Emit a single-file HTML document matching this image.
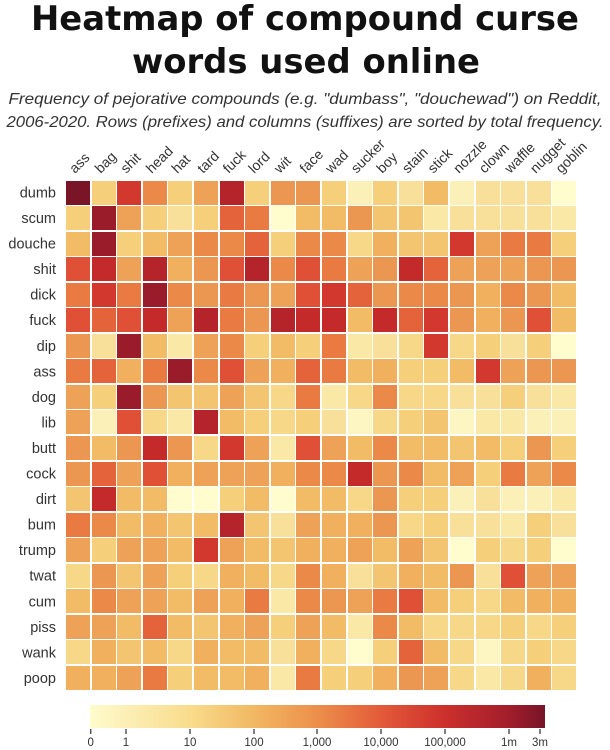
<!DOCTYPE html>
<html><head><meta charset="utf-8"><style>
html,body{margin:0;padding:0;background:#fff;}
#w{position:relative;width:610px;height:750px;overflow:hidden;background:#fff;}
svg{position:absolute;left:0;top:0;}
#g{position:absolute;left:66px;top:180.5px;display:grid;grid-template-columns:repeat(20,24.1px);grid-auto-rows:24.05px;column-gap:1.5px;row-gap:1.5px;}
#g i{display:block;}
.c0{background:#fffcce}.c1{background:#fdf6c2}.c2{background:#fbf0b8}.c3{background:#fae8a6}.c4{background:#f8e09a}
.c5{background:#f7d888}.c6{background:#f5cf7a}.c7{background:#f4c570}.c8{background:#f2bb66}.c9{background:#f0b05e}
.c10{background:#eea257}.c11{background:#ec9751}.c12{background:#eb8a48}.c13{background:#e87a42}.c14{background:#e5633b}
.c15{background:#e05036}.c16{background:#d2382e}.c17{background:#c42a2a}.c18{background:#b5242b}.c19{background:#9a1c2b}.c20{background:#7a1528}
</style></head><body><div id="w">
<svg width="610" height="750" viewBox="0 0 610 750" xmlns="http://www.w3.org/2000/svg">
<defs><linearGradient id="cb" x1="0" x2="1" y1="0" y2="0">
<stop offset="0" stop-color="#fffccd"/><stop offset="0.079" stop-color="#fcefb6"/><stop offset="0.22" stop-color="#f8dc8c"/>
<stop offset="0.36" stop-color="#f2b862"/><stop offset="0.5" stop-color="#ec8f4b"/><stop offset="0.64" stop-color="#e35a39"/>
<stop offset="0.78" stop-color="#cd302c"/><stop offset="0.92" stop-color="#a21e2b"/><stop offset="1" stop-color="#771428"/>
</linearGradient></defs>
<g font-family="DejaVu Sans, Liberation Sans, sans-serif" font-weight="bold" font-size="34" fill="#111" text-anchor="middle">
<text x="305" y="30" textLength="548" lengthAdjust="spacingAndGlyphs">Heatmap of compound curse</text>
<text x="306" y="73" textLength="348" lengthAdjust="spacingAndGlyphs">words used online</text>
</g>
<g font-family="Liberation Sans, sans-serif" font-style="italic" font-size="16" fill="#333" text-anchor="middle">
<text x="305" y="104" textLength="593" lengthAdjust="spacingAndGlyphs">Frequency of pejorative compounds (e.g. "dumbass", "douchewad") on Reddit,</text>
<text x="305" y="127" textLength="597" lengthAdjust="spacingAndGlyphs">2006-2020. Rows (prefixes) and columns (suffixes) are sorted by total frequency.</text>
</g>
<g font-family="Liberation Sans, sans-serif" font-size="14.5" fill="#333" text-anchor="end">
<text x="56" y="197.5">dumb</text><text x="56" y="223">scum</text><text x="56" y="248.6">douche</text><text x="56" y="274.1">shit</text>
<text x="56" y="299.7">dick</text><text x="56" y="325.2">fuck</text><text x="56" y="350.8">dip</text><text x="56" y="376.3">ass</text>
<text x="56" y="401.9">dog</text><text x="56" y="427.4">lib</text><text x="56" y="453">butt</text><text x="56" y="478.5">cock</text>
<text x="56" y="504.1">dirt</text><text x="56" y="529.6">bum</text><text x="56" y="555.2">trump</text><text x="56" y="580.7">twat</text>
<text x="56" y="606.3">cum</text><text x="56" y="631.8">piss</text><text x="56" y="657.4">wank</text><text x="56" y="683">poop</text>
</g>
<g font-family="Liberation Sans, sans-serif" font-size="14" fill="#333">
<text transform="translate(75,174) rotate(-45)">ass</text>
<text transform="translate(100.6,174) rotate(-45)">bag</text>
<text transform="translate(126.2,174) rotate(-45)">shit</text>
<text transform="translate(151.8,174) rotate(-45)">head</text>
<text transform="translate(177.4,174) rotate(-45)">hat</text>
<text transform="translate(203,174) rotate(-45)">tard</text>
<text transform="translate(228.6,174) rotate(-45)">fuck</text>
<text transform="translate(254.2,174) rotate(-45)">lord</text>
<text transform="translate(279.8,174) rotate(-45)">wit</text>
<text transform="translate(305.4,174) rotate(-45)">face</text>
<text transform="translate(331,174) rotate(-45)">wad</text>
<text transform="translate(356.6,174) rotate(-45)">sucker</text>
<text transform="translate(382.2,174) rotate(-45)">boy</text>
<text transform="translate(407.8,174) rotate(-45)">stain</text>
<text transform="translate(433.4,174) rotate(-45)">stick</text>
<text transform="translate(459,174) rotate(-45)">nozzle</text>
<text transform="translate(484.6,174) rotate(-45)">clown</text>
<text transform="translate(510.2,174) rotate(-45)">waffle</text>
<text transform="translate(535.8,174) rotate(-45)">nugget</text>
<text transform="translate(561.4,174) rotate(-45)">goblin</text>
</g>
<rect x="90" y="705" width="455" height="23" fill="url(#cb)"/>
<g stroke="#555" stroke-width="1.5">
<line x1="90.7" y1="729" x2="90.7" y2="734"/><line x1="126" y1="729" x2="126" y2="734"/><line x1="190" y1="729" x2="190" y2="734"/>
<line x1="254" y1="729" x2="254" y2="734"/><line x1="317" y1="729" x2="317" y2="734"/><line x1="381" y1="729" x2="381" y2="734"/>
<line x1="445" y1="729" x2="445" y2="734"/><line x1="509" y1="729" x2="509" y2="734"/><line x1="540" y1="729" x2="540" y2="734"/>
</g>
<g font-family="Liberation Sans, sans-serif" font-size="11.5" fill="#333" text-anchor="middle">
<text x="90.7" y="746">0</text><text x="126" y="746">1</text><text x="190" y="746">10</text><text x="254" y="746">100</text>
<text x="317" y="746">1,000</text><text x="381" y="746">10,000</text><text x="445" y="746">100,000</text><text x="509" y="746">1m</text><text x="540" y="746">3m</text>
</g>
</svg>
<div id="g">
<i class=c20></i><i class=c6></i><i class=c16></i><i class=c12></i><i class=c6></i><i class=c10></i><i class=c18></i><i class=c6></i><i class=c11></i><i class=c11></i><i class=c6></i><i class=c2></i><i class=c6></i><i class=c4></i><i class=c8></i><i class=c2></i><i class=c4></i><i class=c4></i><i class=c4></i><i class=c0></i>
<i class=c6></i><i class=c19></i><i class=c10></i><i class=c6></i><i class=c4></i><i class=c6></i><i class=c14></i><i class=c13></i><i class=c0></i><i class=c8></i><i class=c8></i><i class=c11></i><i class=c7></i><i class=c7></i><i class=c3></i><i class=c4></i><i class=c4></i><i class=c4></i><i class=c4></i><i class=c3></i>
<i class=c8></i><i class=c19></i><i class=c6></i><i class=c8></i><i class=c10></i><i class=c12></i><i class=c12></i><i class=c14></i><i class=c6></i><i class=c12></i><i class=c12></i><i class=c5></i><i class=c9></i><i class=c7></i><i class=c7></i><i class=c16></i><i class=c10></i><i class=c13></i><i class=c13></i><i class=c6></i>
<i class=c15></i><i class=c17></i><i class=c10></i><i class=c18></i><i class=c9></i><i class=c11></i><i class=c15></i><i class=c18></i><i class=c12></i><i class=c15></i><i class=c13></i><i class=c10></i><i class=c11></i><i class=c17></i><i class=c14></i><i class=c10></i><i class=c10></i><i class=c10></i><i class=c11></i><i class=c11></i>
<i class=c13></i><i class=c16></i><i class=c13></i><i class=c19></i><i class=c12></i><i class=c11></i><i class=c13></i><i class=c11></i><i class=c10></i><i class=c15></i><i class=c16></i><i class=c14></i><i class=c11></i><i class=c12></i><i class=c12></i><i class=c11></i><i class=c9></i><i class=c12></i><i class=c11></i><i class=c8></i>
<i class=c15></i><i class=c14></i><i class=c15></i><i class=c17></i><i class=c10></i><i class=c18></i><i class=c13></i><i class=c11></i><i class=c18></i><i class=c17></i><i class=c17></i><i class=c8></i><i class=c17></i><i class=c14></i><i class=c16></i><i class=c11></i><i class=c9></i><i class=c11></i><i class=c15></i><i class=c8></i>
<i class=c11></i><i class=c4></i><i class=c19></i><i class=c8></i><i class=c3></i><i class=c10></i><i class=c12></i><i class=c6></i><i class=c8></i><i class=c6></i><i class=c13></i><i class=c3></i><i class=c4></i><i class=c5></i><i class=c16></i><i class=c5></i><i class=c6></i><i class=c4></i><i class=c6></i><i class=c0></i>
<i class=c13></i><i class=c14></i><i class=c9></i><i class=c13></i><i class=c19></i><i class=c12></i><i class=c15></i><i class=c10></i><i class=c9></i><i class=c14></i><i class=c13></i><i class=c8></i><i class=c9></i><i class=c6></i><i class=c6></i><i class=c8></i><i class=c16></i><i class=c10></i><i class=c11></i><i class=c11></i>
<i class=c10></i><i class=c6></i><i class=c19></i><i class=c11></i><i class=c7></i><i class=c7></i><i class=c10></i><i class=c7></i><i class=c5></i><i class=c13></i><i class=c3></i><i class=c5></i><i class=c12></i><i class=c5></i><i class=c5></i><i class=c4></i><i class=c4></i><i class=c6></i><i class=c4></i><i class=c3></i>
<i class=c10></i><i class=c2></i><i class=c15></i><i class=c5></i><i class=c3></i><i class=c18></i><i class=c8></i><i class=c6></i><i class=c5></i><i class=c6></i><i class=c4></i><i class=c1></i><i class=c5></i><i class=c6></i><i class=c7></i><i class=c1></i><i class=c3></i><i class=c3></i><i class=c2></i><i class=c2></i>
<i class=c11></i><i class=c8></i><i class=c11></i><i class=c17></i><i class=c11></i><i class=c5></i><i class=c16></i><i class=c10></i><i class=c3></i><i class=c15></i><i class=c10></i><i class=c8></i><i class=c12></i><i class=c8></i><i class=c8></i><i class=c7></i><i class=c8></i><i class=c6></i><i class=c11></i><i class=c6></i>
<i class=c11></i><i class=c14></i><i class=c10></i><i class=c15></i><i class=c9></i><i class=c10></i><i class=c10></i><i class=c10></i><i class=c9></i><i class=c12></i><i class=c12></i><i class=c17></i><i class=c11></i><i class=c12></i><i class=c8></i><i class=c10></i><i class=c6></i><i class=c13></i><i class=c10></i><i class=c12></i>
<i class=c7></i><i class=c17></i><i class=c8></i><i class=c8></i><i class=c0></i><i class=c0></i><i class=c6></i><i class=c8></i><i class=c0></i><i class=c8></i><i class=c8></i><i class=c5></i><i class=c11></i><i class=c6></i><i class=c6></i><i class=c2></i><i class=c4></i><i class=c2></i><i class=c2></i><i class=c3></i>
<i class=c13></i><i class=c12></i><i class=c8></i><i class=c9></i><i class=c7></i><i class=c8></i><i class=c18></i><i class=c7></i><i class=c4></i><i class=c10></i><i class=c9></i><i class=c9></i><i class=c11></i><i class=c5></i><i class=c6></i><i class=c4></i><i class=c4></i><i class=c3></i><i class=c6></i><i class=c4></i>
<i class=c10></i><i class=c6></i><i class=c10></i><i class=c10></i><i class=c8></i><i class=c16></i><i class=c10></i><i class=c8></i><i class=c7></i><i class=c9></i><i class=c9></i><i class=c10></i><i class=c8></i><i class=c10></i><i class=c7></i><i class=c0></i><i class=c6></i><i class=c5></i><i class=c6></i><i class=c0></i>
<i class=c5></i><i class=c11></i><i class=c7></i><i class=c10></i><i class=c6></i><i class=c5></i><i class=c9></i><i class=c8></i><i class=c5></i><i class=c12></i><i class=c9></i><i class=c4></i><i class=c7></i><i class=c9></i><i class=c8></i><i class=c11></i><i class=c4></i><i class=c15></i><i class=c10></i><i class=c10></i>
<i class=c8></i><i class=c12></i><i class=c10></i><i class=c10></i><i class=c8></i><i class=c10></i><i class=c9></i><i class=c13></i><i class=c3></i><i class=c12></i><i class=c11></i><i class=c10></i><i class=c13></i><i class=c15></i><i class=c8></i><i class=c6></i><i class=c5></i><i class=c8></i><i class=c9></i><i class=c9></i>
<i class=c10></i><i class=c10></i><i class=c8></i><i class=c14></i><i class=c8></i><i class=c7></i><i class=c9></i><i class=c10></i><i class=c6></i><i class=c10></i><i class=c8></i><i class=c3></i><i class=c12></i><i class=c8></i><i class=c5></i><i class=c5></i><i class=c5></i><i class=c6></i><i class=c5></i><i class=c6></i>
<i class=c5></i><i class=c9></i><i class=c7></i><i class=c8></i><i class=c5></i><i class=c9></i><i class=c8></i><i class=c8></i><i class=c4></i><i class=c9></i><i class=c5></i><i class=c0></i><i class=c6></i><i class=c14></i><i class=c8></i><i class=c5></i><i class=c1></i><i class=c5></i><i class=c6></i><i class=c5></i>
<i class=c9></i><i class=c9></i><i class=c10></i><i class=c13></i><i class=c6></i><i class=c8></i><i class=c8></i><i class=c9></i><i class=c3></i><i class=c13></i><i class=c6></i><i class=c6></i><i class=c9></i><i class=c11></i><i class=c10></i><i class=c5></i><i class=c3></i><i class=c5></i><i class=c9></i><i class=c5></i>
</div>
</div></body></html>
